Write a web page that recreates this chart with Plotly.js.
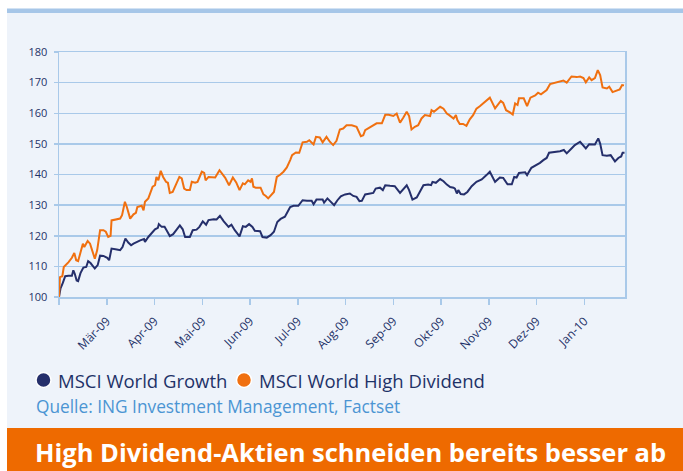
<!DOCTYPE html>
<html>
<head>
<meta charset="utf-8">
<script src="https://cdn.plot.ly/plotly-3.0.1.min.js"></script>
<style>
html,body{margin:0;padding:0;background:#ffffff;}
#chart{width:683px;height:471px;}
</style>
</head>
<body>
<div id="chart"></div>
<script>
// ---- data (x = months since start of Feb-09, y = index value) ----
var monthLabels = ["", "Mär-09", "Apr-09", "Mai-09", "Jun-09", "Jul-09", "Aug-09", "Sep-09", "Okt-09", "Nov-09", "Dez-09", "Jan-10"];
var seriesNames = ["MSCI World Growth", "MSCI World High Dividend"];

var growthX = [0,0.03,0.08,0.13,0.20,0.27,0.30,0.33,0.37,0.40,0.45,0.51,0.57,0.61,0.66,0.75,0.81,0.86,0.93,1.01,1.05,1.10,1.21,1.28,1.33,1.39,1.45,1.51,1.56,1.63,1.70,1.78,1.80,1.87,1.94,2.01,2.07,2.09,2.15,2.21,2.27,2.32,2.39,2.46,2.53,2.59,2.64,2.74,2.80,2.88,2.94,3.01,3.08,3.13,3.24,3.30,3.37,3.45,3.55,3.61,3.68,3.78,
  3.85,3.91,3.98,4.05,4.10,4.21,4.26,4.35,4.43,4.50,4.57,4.64,4.73,4.84,4.91,5.01,5.10,5.19,5.29,5.33,5.39,5.52,5.55,5.62,5.69,5.76,5.83,5.90,5.99,6.09,6.16,6.23,6.29,6.34,6.41,6.51,6.58,6.63,6.72,6.78,6.83,6.93,7.03,7.14,7.21,7.28,7.33,7.40,7.49,7.56,7.63,7.73,7.79,7.82,7.89,7.98,8.05,8.12,8.17,
  8.19,8.26,8.29,8.33,8.36,8.41,8.48,8.55,8.64,8.74,8.85,8.95,9.02,9.13,9.23,9.30,9.39,9.48,9.53,9.58,9.63,9.76,9.80,9.89,10.00,10.07,10.14,10.21,10.26,10.35,10.49,10.57,10.63,10.73,10.80,10.91,10.98,11.03,11.10,11.22,11.29,11.33,11.38,11.47,11.55,11.59,11.64,11.71,11.77,11.80,11.84];
var growthY = [100,102.7,104.6,106.8,106.9,106.9,108.7,107.6,105.4,105.2,107.8,109.6,109.8,111.7,111.1,109.3,110.4,113.5,113.4,112.8,112,115.8,115.5,115.3,116.3,119.1,117.8,116.9,117.4,118,118.5,118.9,118,119.6,120.7,122.1,122.6,123.8,122.9,122.9,121.3,119.9,120.5,122,123.4,122.1,119.6,119.6,121.8,122,122.9,124.7,123.6,125.1,125.4,125.3,126.5,124.7,122.9,123.6,121.8,119.8,
  123.1,122.9,123.8,122.9,121.6,121.5,119.6,119.4,120.2,121.3,124.5,125.5,126.2,129.4,129.8,129.8,131.6,131.4,131.4,130.3,131.8,131.8,130.8,132.2,131.1,130,131.6,132.9,133.5,133.8,133,132.7,131.3,131.4,133.5,133.8,134,135.4,135.7,134.9,136.5,136.3,136.2,134,135.1,136.5,134.9,131.8,132.5,134.3,136.5,136.7,136.5,137.6,137.3,138.5,137.8,136.7,136.2,
  135.9,135.7,135.4,133.8,134.9,133.6,133.5,134.3,136.2,137.6,138.4,139.8,140.9,137.6,139,138.9,136.8,136.8,139.2,139,140.5,140.7,139.8,142.2,143.1,143.8,144.7,145.4,147.1,147.2,147.6,148,146.9,148.5,149.6,150.7,149.6,148.5,149.9,149.8,151.8,150.1,146.3,146.1,146.3,145.2,144.3,145.4,145.9,147.1,147.1];

var dividendX = [0,0.02,0.07,0.10,0.20,0.27,0.32,0.36,0.40,0.44,0.50,0.53,0.60,0.65,0.70,0.75,0.80,0.86,0.93,0.98,1.03,1.08,1.10,1.21,1.28,1.32,1.38,1.42,1.49,1.56,1.61,1.64,1.73,1.77,1.80,1.87,1.96,2.01,2.04,2.08,2.13,2.18,2.24,2.28,2.32,2.38,2.43,2.52,2.57,2.62,2.67,2.74,2.78,2.85,2.90,2.99,3.04,3.07,3.13,3.20,3.27,3.36,3.41,3.48,3.56,3.64,3.71,3.78,
  3.85,3.89,3.96,4.01,4.04,4.07,4.12,4.22,4.28,4.33,4.38,4.45,4.50,4.56,4.63,4.70,4.77,4.84,4.88,4.96,5.03,5.10,5.19,5.24,5.33,5.38,5.46,5.52,5.60,5.67,5.74,5.81,5.88,5.95,6.02,6.13,6.23,6.32,6.37,6.41,6.51,6.58,6.65,6.76,6.83,6.90,7.00,7.07,7.14,7.21,7.28,7.33,7.38,7.45,7.52,7.59,7.66,7.77,7.80,7.85,7.91,7.98,8.05,8.12,8.17,
  8.19,8.26,8.31,8.34,8.39,8.46,8.53,8.60,8.67,8.74,8.81,8.92,9.02,9.13,9.20,9.25,9.30,9.36,9.44,9.50,9.55,9.60,9.63,9.73,9.80,9.87,9.97,10.03,10.09,10.21,10.28,10.38,10.49,10.56,10.63,10.73,10.84,10.91,10.98,11.03,11.10,11.15,11.22,11.28,11.33,11.38,11.47,11.52,11.59,11.67,11.74,11.79,11.83];
var dividendY = [100,106.5,106.8,109.8,111.4,112.8,114.4,112,111.7,114.2,117.4,116.3,118.3,117.4,115.3,112.5,115.3,121.8,121.8,121.3,119.6,120,125,125.4,125.6,126.7,131.1,129.4,125.6,127,127.5,129.4,129.8,128.3,131.1,132.2,136,136.5,139.2,138.1,141.2,139.2,137.6,137.3,134,134.3,136,139.2,138.7,135.4,134.9,134.9,137.6,137.3,137.6,140.9,140.5,138.1,139.2,139.2,139,141.4,140.5,138.9,136.5,139,137.4,134.9,
  137.1,136.8,138.1,137.6,138.7,136,135.7,135.7,133.5,133,132.2,133.3,134.3,139.2,139.9,140.9,142.3,144.7,146.3,147.2,147.1,150.5,150.7,151.2,149.8,152.3,152.1,150.5,152.3,150.7,149.6,151,154.7,155,156.1,156.1,155.6,152.5,152.8,154.5,155.4,156.1,156.7,156.7,159.5,159.5,159.1,159.9,156.9,158.6,160.5,159.1,154.7,155.6,156.1,158.3,159.4,159.1,161,160.5,161.3,162.1,161.5,159.9,159.4,
  159.1,158.3,159.4,157.8,156.5,156.5,155.9,158,159.4,161.5,162.3,163.8,165.1,161.6,163,164,163.4,161,160.3,159.6,163.2,162.7,164.9,164.9,162.3,165.1,165.8,166.7,166.2,167.6,169.5,170,170.3,170.7,170,172,171.8,172,171.5,170.1,171.7,170.8,171.5,174.1,172.5,168.4,168.1,168.7,166.9,167.4,167.8,169.2,169.1];

var chartTitle = "High Dividend-Aktien schneiden bereits besser ab";
var sourceText = "Quelle: ING Investment Management, Factset";

// ---- styling ----
var W = 683, H = 471;
var M = {l: 59, r: 58, t: 52, b: 174};
var PW = W - M.l - M.r, PH = H - M.t - M.b;
function px(x) { return (x - M.l) / PW; }
function py(y) { return (H - M.b - y) / PH; }

var NAVY = "#252f6b", ORANGE = "#f07010", GRID = "#a9c9e9", BG = "#eef3fa", TXT = "#1e3268";
var FONT = "Open Sans, Liberation Sans, sans-serif";

var tickVals = monthLabels.map(function (_, i) { return i; });

var traces = [
  {x: growthX, y: growthY, name: seriesNames[0], mode: "lines", line: {color: NAVY, width: 2}, hoverinfo: "skip"},
  {x: dividendX, y: dividendY, name: seriesNames[1], mode: "lines", line: {color: ORANGE, width: 2}, hoverinfo: "skip"}
];

var layout = {
  width: W, height: H,
  margin: M,
  paper_bgcolor: "#ffffff",
  plot_bgcolor: BG,
  showlegend: false,
  font: {family: FONT, color: TXT},
  xaxis: {
    range: [0, 11.85], tickvals: tickVals, ticktext: monthLabels,
    tickangle: -45, ticks: "outside", ticklen: 6, tickwidth: 1.5, tickcolor: GRID,
    showgrid: false, zeroline: false, showline: true, linecolor: GRID, linewidth: 1.5, mirror: true,
    ticklabelstandoff: 5,
    tickfont: {size: 12, color: TXT, family: FONT}
  },
  yaxis: {
    range: [100, 180], dtick: 10, ticks: "outside", ticklen: 4, tickwidth: 1.5, tickcolor: GRID,
    showgrid: true, gridcolor: GRID, gridwidth: 1.5, zeroline: false,
    showline: true, linecolor: GRID, linewidth: 1.5, mirror: true,
    ticklabelstandoff: 4,
    tickfont: {size: 11, color: TXT, family: FONT}
  },
  shapes: [
    {type: "rect", xref: "paper", yref: "paper", x0: px(7), x1: px(W), y0: py(428), y1: py(13), fillcolor: BG, line: {width: 0}, layer: "below"},
    {type: "rect", xref: "paper", yref: "paper", x0: px(7), x1: px(W), y0: py(13), y1: py(8.5), fillcolor: "#a6c6e8", line: {width: 0}, layer: "below"},
    {type: "rect", xref: "paper", yref: "paper", x0: px(7), x1: px(W), y0: py(H), y1: py(428), fillcolor: "#ee6a00", line: {width: 0}, layer: "below"},
    {type: "circle", xref: "paper", yref: "paper", xsizemode: "pixel", ysizemode: "pixel", xanchor: px(43.5), yanchor: py(380), x0: -7.5, x1: 7.5, y0: -7.5, y1: 7.5, fillcolor: NAVY, line: {width: 1.5, color: "#ffffff"}},
    {type: "circle", xref: "paper", yref: "paper", xsizemode: "pixel", ysizemode: "pixel", xanchor: px(244), yanchor: py(380), x0: -7.5, x1: 7.5, y0: -7.5, y1: 7.5, fillcolor: ORANGE, line: {width: 1.5, color: "#ffffff"}}
  ],
  annotations: [
    {xref: "paper", yref: "paper", x: px(56), y: py(380), xanchor: "left", yanchor: "middle", showarrow: false, text: seriesNames[0], font: {size: 18.5, color: TXT, family: FONT}},
    {xref: "paper", yref: "paper", x: px(257), y: py(380), xanchor: "left", yanchor: "middle", showarrow: false, text: seriesNames[1], font: {size: 18.5, color: TXT, family: FONT}},
    {xref: "paper", yref: "paper", x: px(34), y: py(406), xanchor: "left", yanchor: "middle", showarrow: false, text: sourceText, font: {size: 17.3, color: "#4b95d3", family: FONT}},
    {xref: "paper", yref: "paper", x: px(33), y: py(452), xanchor: "left", yanchor: "middle", showarrow: false, text: "<b>" + chartTitle + "</b>", font: {size: 25.5, color: "#ffffff", family: FONT}}
  ]
};

Plotly.newPlot("chart", traces, layout, {displayModeBar: false, staticPlot: true});
</script>
</body>
</html>
